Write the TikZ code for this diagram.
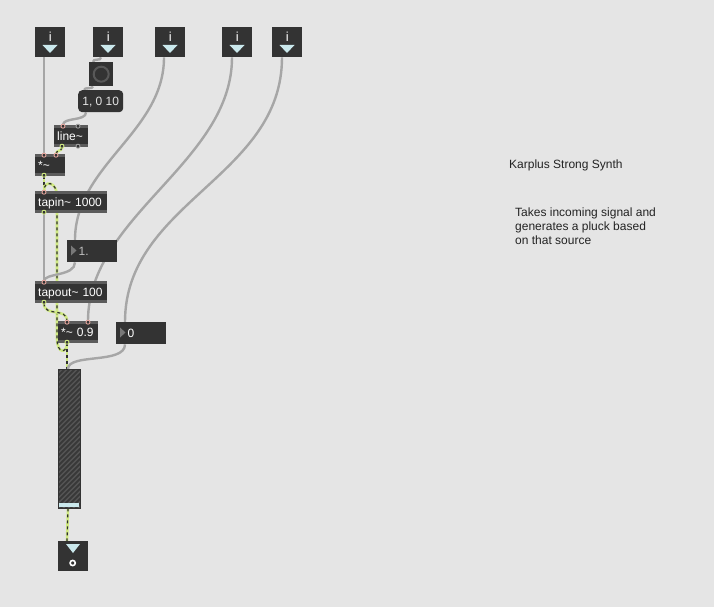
\documentclass[tikz,border=0pt]{standalone}
\usepackage{fontspec}
\setmainfont{Liberation Sans}
\usetikzlibrary{calc}

\definecolor{patchbg}{RGB}{229,229,229}
\definecolor{boxdark}{RGB}{51,51,51}
\definecolor{boxband}{RGB}{92,92,92}
\definecolor{cordgray}{RGB}{166,166,166}
\definecolor{sigyellow}{RGB}{208,234,130}
\definecolor{sigdash}{RGB}{48,48,48}
\definecolor{inletpink}{RGB}{230,166,158}
\definecolor{idlegray}{RGB}{160,160,160}
\definecolor{arrowcyan}{RGB}{202,232,236}
\definecolor{stripegray}{RGB}{84,84,84}
\definecolor{flonumtext}{RGB}{190,190,190}
\definecolor{commentink}{RGB}{35,35,35}

\pgfdeclarelayer{backdrop}
\pgfdeclarelayer{cordlayer}
\pgfsetlayers{backdrop,cordlayer,main}

\begin{document}
\begin{tikzpicture}[x=1pt,y=1pt,yscale=-1,xscale=1,
    every node/.style={font=\fontsize{12}{14}\selectfont,inner sep=0pt},
    maxobj/.style={fill=boxdark,text=white,anchor=north west,inner xsep=3pt,inner ysep=0pt,
        minimum height=22pt,text height=15pt,text depth=7pt,align=left},
    inobj/.style={fill=boxdark,anchor=north west,minimum width=30pt,minimum height=30pt},
    numbox/.style={fill=boxdark,anchor=north west,minimum height=22pt,text height=15pt,
        text depth=7pt,text width=50pt,align=left},
    cord/.style={draw=cordgray,line width=2.4pt},
    sigcord/.style={draw=sigyellow,line width=2.6pt,
        postaction={draw=sigdash,line width=1.2pt,dash pattern=on 3pt off 3pt}}
]

%Shape: Rectangle
\begin{pgfonlayer}{backdrop}
\fill [patchbg] (0,0) rectangle (714,607);
\end{pgfonlayer}
\useasboundingbox (0,0) rectangle (714,607);

%Shape: inlet objects
\foreach \n/\x in {in1/35,in2/93,in3/155,in4/222,in5/272}{
  \node [inobj] (\n) at (\x,27) {};
  \node [text=white,anchor=base,font=\fontsize{13}{15}\selectfont] (\n-i) at ($(\n.north)+(0,15)$) {i};
  \fill [arrowcyan] ($(\n.north west)+(7.5,18)$) -- ($(\n.north west)+(22.5,18)$) -- ($(\n.north west)+(15,26)$) -- cycle;
}

%Shape: button
\node [fill=boxdark,anchor=north west,minimum size=24pt] (btn) at (89,62) {};
\draw [color={rgb,255:red,88;green,88;blue,88},line width=2pt] (btn.center) circle (7.5);

% Text Node
\node [fill=boxdark,anchor=north west,rounded corners=4pt,minimum width=45pt,minimum height=22pt,
    text height=15pt,text depth=7pt,text={rgb,255:red,228;green,228;blue,228}] (msg) at (78,90) {1, 0 10};

% Text Node
\node [maxobj,text width=28pt] (line) at (54,125) {line\textasciitilde};
\node [maxobj,text width=24pt] (mul) at (35,154) {*\textasciitilde};
\node [maxobj,text width=66pt] (tapin) at (35,191) {tapin\textasciitilde{} 1000};
\node [maxobj,text width=66pt] (tapout) at (35,281) {tapout\textasciitilde{} 100};
\node [maxobj,text width=34pt] (mulb) at (58,321) {*\textasciitilde{} 0.9};

\foreach \o in {line,mul,tapin,tapout,mulb}{
  \fill [boxband] (\o.north west) rectangle ($(\o.north east)+(0,3)$);
  \fill [boxband] ($(\o.south west)+(0,-3)$) rectangle (\o.south east);
}

% Text Node
\node [numbox,text=flonumtext] (flt) at (67,240) {\hspace*{11.5pt}1.};
\node [numbox,text=white] (num) at (116,322) {\hspace*{11.5pt}0};
\foreach \n in {flt,num}
  \fill [color={rgb,255:red,120;green,120;blue,120}] ($(\n.north west)+(4,5.5)$) -- ($(\n.north west)+(4,15.5)$) -- ($(\n.north west)+(9.5,10.5)$) -- cycle;

%Shape: slider
\node [fill={rgb,255:red,56;green,56;blue,56},anchor=north west,minimum width=22pt,minimum height=139pt] (sl) at (58,369) {};
\begin{scope}
  \clip (sl.north west) rectangle (sl.south east);
  \foreach \k in {-30,-25,...,140}
    \draw [stripegray,line width=1.4pt] ($(sl.south west)+(0,-\k)$) -- ++(30,-30);
\end{scope}
\fill [arrowcyan] ($(sl.south west)+(1,-5)$) rectangle ($(sl.south east)+(-1,-1)$);
\draw [boxdark,line width=1pt] (sl.north west) rectangle (sl.south east);

%Shape: output
\node [inobj] (dac) at (58,541) {};
\fill [arrowcyan] ($(dac.north west)+(8,3)$) -- ($(dac.north west)+(22,3)$) -- ($(dac.north west)+(15,12)$) -- cycle;
\draw [white,line width=1.6pt] ($(dac.north west)+(14.7,22)$) circle (2.6);

% inlets and outlets
\foreach \n/\dx/\c in {line/9/inletpink,line/24/idlegray,mul/9/inletpink,mul/21/inletpink,
    tapin/9/inletpink,tapout/9/inletpink,mulb/9/inletpink,mulb/30/inletpink}
  \filldraw [fill=boxdark,draw=\c,line width=0.9pt] ($(\n.north west)+(\dx,1.2)$) circle (2);
\foreach \n/\dx/\c in {line/8/sigyellow,line/24/idlegray,mul/9/sigyellow,tapin/9/sigyellow,
    tapout/9/sigyellow,mulb/9/sigyellow}
  \filldraw [fill=boxdark,draw=\c,line width=0.9pt] ($(\n.south west)+(\dx,-1.2)$) circle (2);

\begin{pgfonlayer}{cordlayer}
%Straight Lines
\draw [cord] ([xshift=9pt]in1.south west) -- ([xshift=9pt]mul.north west);
%Curve Lines
\draw [cord] ([xshift=8pt]in2.south west) .. controls +(0,4) and +(0,-4) .. ([xshift=4pt]btn.north west);
\draw [cord] ([xshift=4pt]btn.south west) .. controls +(0,3) and +(0,-3) .. ([xshift=6pt]msg.north west);
\draw [cord] ([xshift=8pt]msg.south west) .. controls +(0,9) and +(0,-8) .. ([xshift=9pt]line.north west);
\draw [sigcord] ([xshift=8pt]line.south west) .. controls +(0,4) and +(0,-4) .. ([xshift=21pt]mul.north west);
\draw [sigcord] ([xshift=9pt]mul.south west) .. controls +(0,8) and +(0,-8) .. ([xshift=9pt]tapin.north west);
%Straight Lines
\draw [cord] ([xshift=9pt]tapin.south west) -- ([xshift=9pt]tapout.north west);
%Curve Lines
\draw [sigcord] ([xshift=9pt]mulb.south west) .. controls +(0,10) and +(0,16) .. ($(tapin.south west)+(22,125)$)
    -- ($(tapin.north west)+(22,5)$) .. controls +(0,-14) and +(0,-12) .. ([xshift=9pt]tapin.north west);
\draw [sigcord] ([xshift=9pt]tapout.south west) .. controls +(0,14) and +(0,-14) .. ([xshift=9pt]mulb.north west);
\draw [sigcord] ([xshift=9pt]mulb.south west) .. controls +(0,10) and +(0,-10) .. ([xshift=9pt]sl.north west);
\draw [cord] ([xshift=9pt]in3.south west) .. controls +(0,75) and +(0,-75) .. ([xshift=8pt]flt.north west);
\draw [cord] ([xshift=8pt]flt.south west) .. controls +(0,14) and +(0,-8) .. ([xshift=9pt]tapout.north west);
\draw [cord] ([xshift=10pt]in4.south west) .. controls +(0,105) and +(0,-105) .. ([xshift=30pt]mulb.north west);
\draw [cord] ([xshift=10pt]in5.south west) .. controls +(0,120) and +(0,-120) .. ([xshift=9pt]num.north west);
\draw [cord] ([xshift=9pt]num.south west) .. controls +(0,20) and +(0,-16) .. ([xshift=10pt]sl.north west);
\draw [sigcord] ([xshift=10pt]sl.south west) -- ([xshift=9pt]dac.north west);
\end{pgfonlayer}

% Text Node
\draw (509,168) node [anchor=base west][text=commentink] [align=left] (title) {Karplus Strong Synth};
% Text Node
\draw (515,208) node [anchor=north west][text=commentink] [align=left] (about) {Takes incoming signal and\\generates a pluck based\\on that source};
\end{tikzpicture}
\end{document}
